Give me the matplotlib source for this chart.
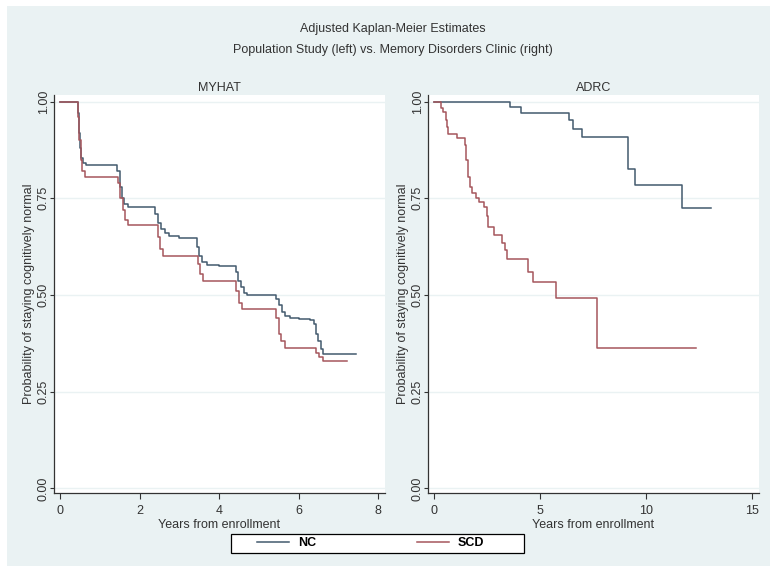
import matplotlib
matplotlib.use("Agg")
import matplotlib.pyplot as plt
from matplotlib.patches import Rectangle
from matplotlib.lines import Line2D

plt.rcParams['font.family'] = ['Liberation Sans', 'DejaVu Sans']

# MYHAT (population study), adjusted KM estimates
myhat_nc_t = [0, 0.46, 0.48, 0.50, 0.53, 0.58, 0.65, 1.44, 1.50, 1.56, 1.62, 1.70,
              2.40, 2.46, 2.55, 2.65, 2.75, 3.00, 3.44, 3.50, 3.58, 3.70, 4.00,
              4.42, 4.48, 4.55, 4.62, 4.70, 5.44, 5.50, 5.58, 5.66, 5.78, 6.00,
              6.30, 6.38, 6.44, 6.50, 6.56, 6.62, 7.45]
myhat_nc_s = [1.0, 0.97, 0.92, 0.88, 0.855, 0.84, 0.836, 0.82, 0.78, 0.75, 0.735, 0.728,
              0.71, 0.685, 0.67, 0.66, 0.652, 0.648, 0.625, 0.60, 0.585, 0.578, 0.576,
              0.56, 0.535, 0.52, 0.505, 0.50, 0.49, 0.475, 0.455, 0.445, 0.44, 0.438,
              0.435, 0.425, 0.40, 0.38, 0.36, 0.347, 0.347]

myhat_scd_t = [0, 0.46, 0.49, 0.52, 0.56, 0.63, 1.46, 1.52, 1.58, 1.64, 1.72,
               2.46, 2.52, 2.59, 3.46, 3.52, 3.59, 4.44, 4.50, 4.57,
               5.44, 5.50, 5.56, 5.66, 6.45, 6.52, 6.62, 7.23]
myhat_scd_s = [1.0, 0.96, 0.90, 0.85, 0.82, 0.806, 0.79, 0.75, 0.72, 0.695, 0.681,
               0.65, 0.62, 0.602, 0.58, 0.555, 0.536, 0.51, 0.48, 0.464,
               0.44, 0.40, 0.38, 0.363, 0.35, 0.34, 0.329, 0.329]

# ADRC (memory disorders clinic)
adrc_nc_t = [0, 3.58, 4.10, 6.38, 6.54, 6.97, 9.17, 9.49, 11.73, 13.1]
adrc_nc_s = [1.0, 0.987, 0.970, 0.953, 0.929, 0.909, 0.825, 0.785, 0.726, 0.726]

adrc_scd_t = [0, 0.32, 0.43, 0.54, 0.62, 0.66, 1.06, 1.45, 1.50, 1.57, 1.69, 1.80,
              1.96, 2.13, 2.33, 2.48, 2.55, 2.84, 3.22, 3.34, 3.44, 4.41, 4.65,
              5.75, 7.71, 12.37]
adrc_scd_s = [1.0, 0.983, 0.974, 0.953, 0.935, 0.916, 0.905, 0.888, 0.849, 0.806, 0.780, 0.763,
              0.750, 0.741, 0.728, 0.703, 0.677, 0.655, 0.634, 0.616, 0.593, 0.560, 0.534,
              0.491, 0.364, 0.364]

y_ticks = [0.0, 0.25, 0.5, 0.75, 1.0]
y_tick_labels = ["0.00", "0.25", "0.50", "0.75", "1.00"]
left_x_ticks = [0, 2, 4, 6, 8]
right_x_ticks = [0, 5, 10, 15]

NC_COLOR = '#435a6e'
SCD_COLOR = '#a5565c'
BG = '#eaf2f3'
TXT = '#333333'
W, H = 770, 566

fig = plt.figure(figsize=(W / 100, H / 100), dpi=100)
fig.patch.set_facecolor('white')
fig.patches.append(Rectangle((7 / W, 0), 1 - 7 / W, (H - 6) / H,
                             transform=fig.transFigure, facecolor=BG,
                             edgecolor='none', zorder=-10))


def px_axes(x0, x1, y0, y1):
    # pixel box (top-left origin) -> figure axes
    return fig.add_axes([x0 / W, (H - y1) / H, (x1 - x0) / W, (y1 - y0) / H])


def style_panel(ax, title, xlim, xticks):
    ax.set_facecolor('white')
    ax.set_xlim(*xlim)
    ax.set_ylim(-0.012, 1.017)
    ax.set_xticks(xticks)
    ax.set_yticks(y_ticks)
    ax.set_yticklabels(y_tick_labels, rotation=90, va='center')
    for side in ['top', 'right']:
        ax.spines[side].set_visible(False)
    for side in ['left', 'bottom']:
        ax.spines[side].set_color(TXT)
        ax.spines[side].set_linewidth(0.9)
    ax.tick_params(direction='out', width=0.8, color=TXT,
                   labelsize=9, labelcolor=TXT)
    ax.tick_params(axis='x', length=4, pad=5)
    ax.tick_params(axis='y', length=3, pad=0)
    ax.grid(axis='y', color=BG, linewidth=1.0)
    ax.set_axisbelow(True)
    ax.set_title(title, fontsize=9, color=TXT, pad=3)
    ax.set_xlabel("Years from enrollment", fontsize=9, color=TXT, labelpad=1)
    ax.set_ylabel("Probability of staying cognitively normal", fontsize=9,
                  color=TXT, labelpad=2)


ax1 = px_axes(54, 385, 95, 493)
ax1.step(myhat_nc_t, myhat_nc_s, where='post', color=NC_COLOR, lw=1.1)
ax1.step(myhat_scd_t, myhat_scd_s, where='post', color=SCD_COLOR, lw=1.1)
style_panel(ax1, "MYHAT", (-0.151, 8.176), left_x_ticks)

ax2 = px_axes(428, 759, 95, 493)
ax2.step(adrc_nc_t, adrc_nc_s, where='post', color=NC_COLOR, lw=1.1)
ax2.step(adrc_scd_t, adrc_scd_s, where='post', color=SCD_COLOR, lw=1.1)
style_panel(ax2, "ADRC", (-0.298, 15.35), right_x_ticks)

fig.text(393 / W, 1 - 29 / H, "Adjusted Kaplan-Meier Estimates",
         ha='center', va='center', fontsize=9, color=TXT)
fig.text(393 / W, 1 - 50 / H, "Population Study (left) vs. Memory Disorders Clinic (right)",
         ha='center', va='center', fontsize=9, color=TXT)

# legend box drawn separately, entries placed inside it
fig.patches.append(Rectangle((231 / W, (H - 552.5) / H), 293 / W, 18.5 / H,
                             transform=fig.transFigure, facecolor='white',
                             edgecolor='black', linewidth=0.9, zorder=5))
fs = 9 * 100 / 72  # font size in px
handles = [Line2D([], [], color=NC_COLOR, lw=1.1),
           Line2D([], [], color=SCD_COLOR, lw=1.1)]
leg = fig.legend(handles, ["NC", "SCD"], loc='center left', ncol=2,
                 bbox_to_anchor=(257 / W, (H - 543.5) / H),
                 bbox_transform=fig.transFigure, frameon=False,
                 borderaxespad=0, borderpad=0, handlelength=32 / fs,
                 handletextpad=9 / fs, columnspacing=101 / fs,
                 prop={'weight': 'bold', 'size': 9})
leg.set_zorder(6)

fig.savefig('out.png', dpi=100, facecolor=fig.get_facecolor())
